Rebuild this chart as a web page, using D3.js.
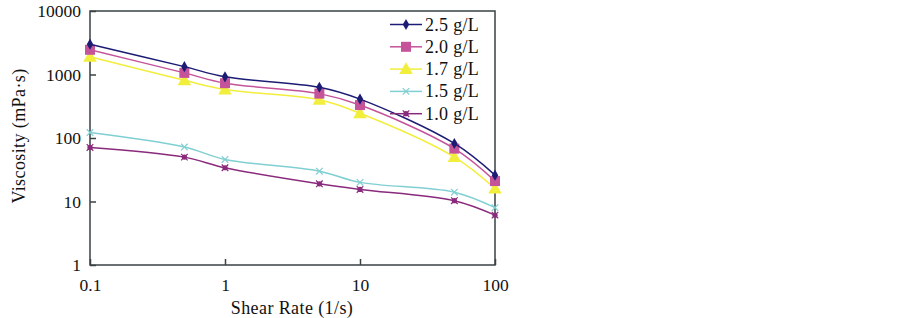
<!DOCTYPE html>
<html>
<head>
<meta charset="utf-8">
<script src="https://cdn.jsdelivr.net/npm/d3@7"></script>
<style>
  body { margin: 0; background: #fff; }
  text { font-family: "Liberation Serif", "Times New Roman", serif; }
</style>
</head>
<body>
<script>
// shear rates (1/s)
const shearRate = [0.1, 0.5, 1, 5, 10, 50, 100];

// viscosity (mPa·s) per concentration
const v25 = [3000, 1330, 920, 630, 410, 82, 26];
const v20 = [2450, 1060, 730, 500, 330, 68, 21];
const v17 = [1900, 810, 580, 400, 245, 50, 16];
const v15 = [122, 72, 46, 30, 20, 14, 8];
const v10 = [71, 50, 34, 19, 15.5, 10.3, 6.1];

const seriesNames = ["2.5 g/L", "2.0 g/L", "1.7 g/L", "1.5 g/L", "1.0 g/L"];
const seriesVals = [v25, v20, v17, v15, v10];
const colors = ["#1c1c74", "#c4539a", "#f2ee3c", "#80cfd2", "#8a2a7c"];
const markers = ["diamond", "square", "triangle", "x", "star"];

const xTicks = [0.1, 1, 10, 100];
const yTicks = [1, 10, 100, 1000, 10000];

const W = 902, H = 318;
const mLeft = 90, mRight = 495, mTop = 11, mBottom = 265;

const svg = d3.select("body").append("svg")
  .attr("width", W)
  .attr("height", H);

const x = d3.scaleLog().domain([0.1, 100]).range([mLeft, mRight]);
const y = d3.scaleLog().domain([1, 10000]).range([mBottom, mTop]);

const axisColor = "#3a4244";

// frame
svg.append("rect")
  .attr("x", mLeft).attr("y", mTop)
  .attr("width", mRight - mLeft).attr("height", mBottom - mTop)
  .attr("fill", "none").attr("stroke", axisColor).attr("stroke-width", 1.5);

// axes with inward ticks
const xAxis = svg.append("g")
  .attr("transform", `translate(0,${mBottom})`)
  .call(d3.axisBottom(x).tickValues(xTicks).tickSize(-6).tickPadding(14)
    .tickFormat(d => String(d)));
const yAxis = svg.append("g")
  .attr("transform", `translate(${mLeft},0)`)
  .call(d3.axisLeft(y).tickValues(yTicks).tickSize(-6).tickPadding(9)
    .tickFormat(d => String(d)));

[xAxis, yAxis].forEach(g => {
  g.select(".domain").remove();
  g.selectAll(".tick line").attr("stroke", axisColor).attr("stroke-width", 1.5);
  g.selectAll(".tick text").attr("fill", "#111").style("font-size", "17.5px")
    .style("font-family", '"Liberation Serif", serif');
});

// axis titles
svg.append("text")
  .attr("x", 292).attr("y", 314)
  .attr("text-anchor", "middle")
  .style("font-size", "18px")
  .style("letter-spacing", "0.4px")
  .attr("fill", "#111")
  .text("Shear Rate (1/s)");

svg.append("text")
  .attr("transform", "translate(25,136) rotate(-90)")
  .attr("text-anchor", "middle")
  .style("font-size", "18px")
  .style("letter-spacing", "0.4px")
  .attr("fill", "#111")
  .text("Viscosity (mPa·s)");

const line = d3.line()
  .x(d => x(d[0]))
  .y(d => y(d[1]))
  .curve(d3.curveCatmullRom.alpha(0.5));

function drawMarker(g, type, color, cx, cy) {
  if (type === "diamond") {
    g.append("path").attr("d", d3.symbol(d3.symbolDiamond, 36)())
      .attr("transform", `translate(${cx},${cy})`).attr("fill", color);
  } else if (type === "square") {
    g.append("rect").attr("x", cx - 5).attr("y", cy - 5)
      .attr("width", 10).attr("height", 10).attr("fill", color);
  } else if (type === "triangle") {
    g.append("path").attr("d", d3.symbol(d3.symbolTriangle, 80)())
      .attr("transform", `translate(${cx},${cy + 1})`).attr("fill", color);
  } else if (type === "x") {
    g.append("path").attr("d", d3.symbol(d3.symbolX, 30)())
      .attr("transform", `translate(${cx},${cy})`)
      .attr("fill", "none").attr("stroke", color).attr("stroke-width", 1.2);
  } else {
    g.append("path").attr("d", d3.symbol(d3.symbolX, 30)())
      .attr("transform", `translate(${cx},${cy})`)
      .attr("fill", "none").attr("stroke", color).attr("stroke-width", 1.2);
    g.append("circle").attr("cx", cx).attr("cy", cy).attr("r", 2.6).attr("fill", color);
  }
}

// draw bottom series first so top ones overlap
for (let i = seriesVals.length - 1; i >= 0; i--) {
  const pts = shearRate.map((r, j) => [r, seriesVals[i][j]]);
  const g = svg.append("g");
  g.append("path").datum(pts)
    .attr("d", line)
    .attr("fill", "none")
    .attr("stroke", colors[i])
    .attr("stroke-width", 1.5);
  pts.forEach(p => drawMarker(g, markers[i], colors[i], x(p[0]), y(p[1])));
}

// legend
const lg = svg.append("g");
seriesNames.forEach((name, i) => {
  const yy = 24.5 + i * 22.3;
  lg.append("line")
    .attr("x1", 390).attr("x2", 422)
    .attr("y1", yy).attr("y2", yy)
    .attr("stroke", colors[i]).attr("stroke-width", 1.5);
  drawMarker(lg, markers[i], colors[i], 406, yy);
  lg.append("text")
    .attr("x", 425).attr("y", yy + 6)
    .style("font-size", "18px")
    .style("letter-spacing", "0.3px")
    .attr("fill", "#111")
    .text(name);
});
</script>
</body>
</html>
